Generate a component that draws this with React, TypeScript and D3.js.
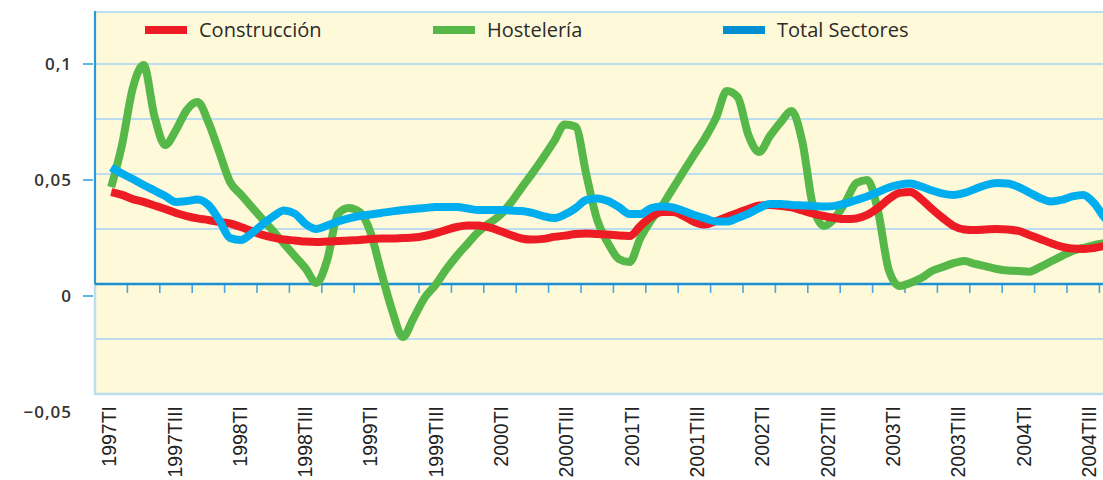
import React from 'react';
import * as d3 from 'd3';

const quarters = [
  '1997TI', '1997TII', '1997TIII', '1997TIV',
  '1998TI', '1998TII', '1998TIII', '1998TIV',
  '1999TI', '1999TII', '1999TIII', '1999TIV',
  '2000TI', '2000TII', '2000TIII', '2000TIV',
  '2001TI', '2001TII', '2001TIII', '2001TIV',
  '2002TI', '2002TII', '2002TIII', '2002TIV',
  '2003TI', '2003TII', '2003TIII', '2003TIV',
  '2004TI', '2004TII', '2004TIII', '2004TIV',
];

const yTickValues = [-0.05, 0, 0.05, 0.1];
const yTickLabels = ['−0,05', '0', '0,05', '0,1'];
const gridValues = [-0.025, 0.025, 0.05, 0.075, 0.1];
const seriesNames = ['Construcción', 'Hostelería', 'Total Sectores'];

// monthly readings (3 per quarter), starting at 1997TI
const construccion = [
  0.0418, 0.0405, 0.0386, 0.0373, 0.0357, 0.0341, 0.0323, 0.0309, 0.0298, 0.0291,
  0.0282, 0.0275, 0.0259, 0.0241, 0.0223, 0.0211, 0.0202, 0.0198, 0.0193, 0.0191,
  0.0193, 0.0195, 0.0198, 0.0200, 0.0205, 0.0207, 0.0207, 0.0209, 0.0211, 0.0218,
  0.0230, 0.0245, 0.0259, 0.0266, 0.0266, 0.0257, 0.0241, 0.0223, 0.0207, 0.0202,
  0.0205, 0.0214, 0.0220, 0.0227, 0.0230, 0.0227, 0.0225, 0.0220, 0.0218, 0.0264,
  0.0305, 0.0327, 0.0327, 0.0309, 0.0282, 0.0270, 0.0286, 0.0305, 0.0323, 0.0341,
  0.0357, 0.0359, 0.0355, 0.0348, 0.0334, 0.0320, 0.0309, 0.0300, 0.0295, 0.0298,
  0.0314, 0.0345, 0.0386, 0.0414, 0.0418, 0.0386, 0.0341, 0.0300, 0.0264, 0.0248,
  0.0245, 0.0248, 0.0250, 0.0248, 0.0241, 0.0223, 0.0205, 0.0186, 0.0170, 0.0161,
  0.0159, 0.0164, 0.0173, 0.0182,
];

const hosteleria = [
  0.0440, 0.0632, 0.0891, 0.0995, 0.0764, 0.0632, 0.0700, 0.0791, 0.0827, 0.0736,
  0.0600, 0.0464, 0.0407, 0.0351, 0.0295, 0.0240, 0.0184, 0.0127, 0.0071, 0.0005,
  0.0109, 0.0318, 0.0345, 0.0327, 0.0236, 0.0055, -0.0118, -0.0241, -0.0155, -0.0064,
  -0.0006, 0.0065, 0.0128, 0.0183, 0.0237, 0.0276, 0.0313, 0.0369, 0.0437, 0.0504,
  0.0574, 0.0648, 0.0725, 0.0715, 0.0495, 0.0291, 0.0186, 0.0114, 0.0100, 0.0209,
  0.0291, 0.0355, 0.0434, 0.0512, 0.0589, 0.0665, 0.0755, 0.0877, 0.0850, 0.0677,
  0.0600, 0.0673, 0.0736, 0.0786, 0.0645, 0.0350, 0.0264, 0.0300, 0.0373, 0.0459,
  0.0473, 0.0332, 0.0064, -0.0009, 0.0005, 0.0027, 0.0059, 0.0077, 0.0095, 0.0105,
  0.0091, 0.0080, 0.0068, 0.0061, 0.0059, 0.0056, 0.0077, 0.0102, 0.0127, 0.0150,
  0.0164, 0.0177, 0.0186, 0.0195,
];

const totalSectores = [
  0.0530, 0.0502, 0.0477, 0.0450, 0.0425, 0.0400, 0.0373, 0.0377, 0.0384, 0.0359,
  0.0291, 0.0209, 0.0200, 0.0230, 0.0270, 0.0307, 0.0334, 0.0320, 0.0273, 0.0250,
  0.0266, 0.0284, 0.0298, 0.0309, 0.0316, 0.0323, 0.0330, 0.0336, 0.0341, 0.0345,
  0.0350, 0.0350, 0.0350, 0.0343, 0.0336, 0.0336, 0.0336, 0.0334, 0.0332, 0.0323,
  0.0309, 0.0300, 0.0316, 0.0345, 0.0382, 0.0389, 0.0377, 0.0350, 0.0318, 0.0318,
  0.0345, 0.0352, 0.0348, 0.0332, 0.0314, 0.0298, 0.0284, 0.0284, 0.0300, 0.0320,
  0.0345, 0.0364, 0.0364, 0.0359, 0.0357, 0.0355, 0.0352, 0.0355, 0.0366, 0.0382,
  0.0398, 0.0418, 0.0439, 0.0452, 0.0457, 0.0443, 0.0425, 0.0411, 0.0405, 0.0414,
  0.0432, 0.0450, 0.0459, 0.0457, 0.0441, 0.0416, 0.0391, 0.0375, 0.0382, 0.0398,
  0.0405, 0.0368, 0.0300, 0.0255,
];

const W = 1103;
const H = 480;
const PLOT_LEFT = 95;
const PLOT_TOP = 12;
const STEP = 32.4;

const RED = '#ed1c24';
const GREEN = '#55b848';
const BLUE = '#00adee';
const LEGEND_BLUE = '#0090d2';
const GRID = '#bcdcf0';
const AXIS_BLUE = '#1b8fd2';
const BG = '#fef9d8';

export default function App() {
  const xBand = d3.scaleBand<string>()
    .domain(quarters)
    .range([PLOT_LEFT, PLOT_LEFT + quarters.length * STEP])
    .padding(0);
  const bw = xBand.bandwidth();
  const y = d3.scaleLinear().domain([-0.05, 0.1]).range([394, 64]);
  const yLabel = d3.scaleLinear().domain([-0.05, 0.1]).range([412, 64]);
  const xLabel = d3.scaleLinear().domain([0, 30]).range([109.2, 1089]);
  const nMonths = construccion.length;
  const xMonth = d3.scaleLinear()
    .domain([0, nMonths - 1])
    .range([(xBand(quarters[0]) as number) + bw / 2, (xBand(quarters[quarters.length - 1]) as number) + bw / 2]);

  const line = d3.line<number>()
    .x((_, i) => xMonth(i))
    .y((d) => y(d))
    .curve(d3.curveMonotoneX);

  const series = [
    { name: seriesNames[1], values: hosteleria, color: GREEN },
    { name: seriesNames[0], values: construccion, color: RED },
    { name: seriesNames[2], values: totalSectores, color: BLUE },
  ];

  const legend = [
    { name: seriesNames[0], color: RED, x: 145 },
    { name: seriesNames[1], color: GREEN, x: 433 },
    { name: seriesNames[2], color: LEGEND_BLUE, x: 723 },
  ];

  const y0 = y(0);
  const yBottom = y(-0.05);

  return (
    <svg
      width={W}
      height={H}
      style={{ position: 'absolute', left: 0, top: 0, background: '#ffffff' }}
    >
      <rect x={PLOT_LEFT} y={PLOT_TOP} width={W - PLOT_LEFT} height={yBottom - PLOT_TOP} fill={BG} />
      {gridValues.map((v) => (
        <line key={v} x1={PLOT_LEFT} x2={W} y1={y(v)} y2={y(v)} stroke={GRID} strokeWidth={2.2} />
      ))}
      <line x1={PLOT_LEFT} x2={W} y1={PLOT_TOP} y2={PLOT_TOP} stroke={GRID} strokeWidth={2.2} />
      <line x1={PLOT_LEFT} x2={W} y1={yBottom} y2={yBottom} stroke={GRID} strokeWidth={2.5} />
      <line x1={PLOT_LEFT} x2={PLOT_LEFT} y1={y0} y2={yBottom + 1} stroke={GRID} strokeWidth={2.5} />
      <line x1={PLOT_LEFT} x2={PLOT_LEFT} y1={PLOT_TOP - 1} y2={y0} stroke="#2a9ad8" strokeWidth={2.2} />

      {/* x ticks on zero line */}
      {quarters.slice(1).map((q) => (
        <line
          key={q}
          x1={xBand(q) as number}
          x2={xBand(q) as number}
          y1={y0}
          y2={y0 + 9}
          stroke="#4aa6dc"
          strokeWidth={1.6}
        />
      ))}
      <line x1={PLOT_LEFT} x2={W} y1={y0} y2={y0} stroke={AXIS_BLUE} strokeWidth={2.6} />

      {/* legend */}
      {legend.map((l) => (
        <g key={l.name}>
          <rect x={l.x} y={26} width={42} height={8} fill={l.color} />
          <text
            x={l.x + 54}
            y={37}
            fontFamily="'Open Sans', sans-serif"
            fontSize={20}
            fill="#2b2b2b"
          >
            {l.name}
          </text>
        </g>
      ))}

      {/* lines */}
      {series.map((s) => (
        <path
          key={s.name}
          d={line(s.values) || ''}
          fill="none"
          stroke={s.color}
          strokeWidth={8}
          strokeLinejoin="round"
        />
      ))}

      {/* y axis labels */}
      {yTickValues.map((v, i) => (
        <g key={v}>
          {v >= 0 && (
            <line x1={83} x2={93} y1={yLabel(v)} y2={yLabel(v)} stroke="#3aa0dc" strokeWidth={1.6} />
          )}
          <text
            x={72}
            y={yLabel(v)}
            dy="0.36em"
            textAnchor="end"
            fontFamily="'Open Sans', sans-serif"
            fontWeight={600}
            fontSize={17}
            letterSpacing={1}
            fill="#333333"
          >
            {yTickLabels[i]}
          </text>
        </g>
      ))}

      {/* x axis labels */}
      {quarters.map((q, i) =>
        i % 2 === 0 ? (
          <text
            key={q}
            transform={`translate(${xLabel(i) + 7},406) rotate(-90)`}
            textAnchor="end"
            fontFamily="'Liberation Sans', Arial, sans-serif"
            fontSize={19.5}
            fill="#222222"
          >
            {q}
          </text>
        ) : null
      )}
    </svg>
  );
}
